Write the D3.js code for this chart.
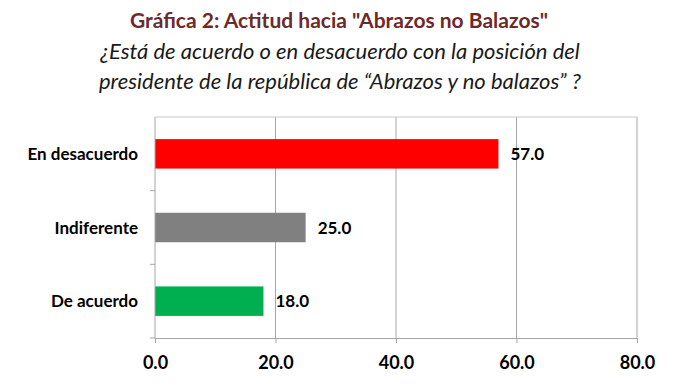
<!DOCTYPE html>
<html>
<head>
<meta charset="utf-8">
<script src="https://cdn.jsdelivr.net/npm/d3@7"></script>
<style>
  body { margin: 0; background: #fff; }
  svg { display: block; font-family: Lato, "Open Sans", sans-serif; }
</style>
</head>
<body>
<div id="chart"></div>
<script>
// Data
const categories = ["En desacuerdo", "Indiferente", "De acuerdo"];
const values = [57.0, 25.0, 18.0];
const barColors = ["#ff0000", "#808080", "#00b050"];
const xTicks = [0, 20, 40, 60, 80];

const title = 'Gráfica 2: Actitud hacia "Abrazos no Balazos"';
const subtitle = [
    "¿Está de acuerdo o en desacuerdo con la posición del",
    "presidente de la república de “Abrazos y no balazos” ?"
];

const W = 700, H = 390;
const margin = { top: 117, right: 63, bottom: 52, left: 155 };
const width = W - margin.left - margin.right;
const height = H - margin.top - margin.bottom;

const svg = d3.select("#chart").append("svg")
    .attr("width", W)
    .attr("height", H);

// Titles
svg.append("text")
    .attr("x", 339).attr("y", 28)
    .attr("text-anchor", "middle")
    .attr("font-size", 21).attr("font-weight", "bold")
    .attr("fill", "#6e2a2a")
    .text(title);

svg.selectAll(".sub")
    .data(subtitle)
    .enter().append("text")
    .attr("class", "sub")
    .attr("x", 340)
    .attr("y", (d, i) => 59 + i * 30)
    .attr("text-anchor", "middle")
    .attr("font-size", 22).attr("font-style", "italic")
    .attr("fill", "#1a1a1a")
    .text(d => d);

const g = svg.append("g")
    .attr("transform", `translate(${margin.left},${margin.top})`);

// Scales
const x = d3.scaleLinear().domain([0, 80]).range([0, width]);
const y = d3.scaleBand().domain(categories).range([0, height])
    .paddingInner(0.6).paddingOuter(0.3);

// Gridlines
g.selectAll(".grid")
    .data(xTicks.slice(1))
    .enter().append("line")
    .attr("x1", d => x(d)).attr("x2", d => x(d))
    .attr("y1", 0).attr("y2", height)
    .attr("stroke", "#a6a6a6").attr("stroke-width", 1);

g.append("line")
    .attr("x1", 0).attr("x2", width)
    .attr("y1", 0).attr("y2", 0)
    .attr("stroke", "#c8c8c8");

// Bars
g.selectAll(".bar")
    .data(values)
    .enter().append("rect")
    .attr("x", 0)
    .attr("y", (d, i) => y(categories[i]))
    .attr("width", d => x(d))
    .attr("height", y.bandwidth())
    .attr("fill", (d, i) => barColors[i]);

// Value labels
g.selectAll(".val")
    .data(values)
    .enter().append("text")
    .attr("x", d => x(d) + 12)
    .attr("y", (d, i) => y(categories[i]) + y.bandwidth() / 2)
    .attr("dy", "0.36em")
    .attr("font-size", 17).attr("font-weight", "bold")
    .attr("fill", "#000")
    .text(d => d.toFixed(1));

// X axis
const xAxis = g.append("g")
    .attr("transform", `translate(0,${height})`)
    .call(d3.axisBottom(x).tickValues(xTicks).tickSize(5).tickPadding(13)
        .tickFormat(d => d.toFixed(1)));
xAxis.select(".domain").attr("stroke", "#a6a6a6");
xAxis.selectAll(".tick line").attr("stroke", "#a6a6a6");
xAxis.selectAll("text")
    .attr("font-size", 18).attr("font-weight", "bold")
    .attr("fill", "#000").attr("font-family", "Lato, sans-serif");

// Y axis: tick marks at band boundaries
const yAxis = g.append("g");
yAxis.append("line")
    .attr("x1", 0).attr("x2", 0).attr("y1", 0).attr("y2", height)
    .attr("stroke", "#a6a6a6");
const bounds = categories.map(c => y(c) - y.step() * y.paddingInner() / 2).slice(1).concat([height]);
yAxis.selectAll(".yt")
    .data(bounds)
    .enter().append("line")
    .attr("x1", -5).attr("x2", 0)
    .attr("y1", d => d).attr("y2", d => d)
    .attr("stroke", "#a6a6a6");
yAxis.selectAll(".cat")
    .data(categories)
    .enter().append("text")
    .attr("x", -17)
    .attr("y", d => y(d) + y.bandwidth() / 2)
    .attr("dy", "0.36em")
    .attr("text-anchor", "end")
    .attr("font-size", 17).attr("font-weight", "bold")
    .attr("fill", "#000")
    .text(d => d);
</script>
</body>
</html>
